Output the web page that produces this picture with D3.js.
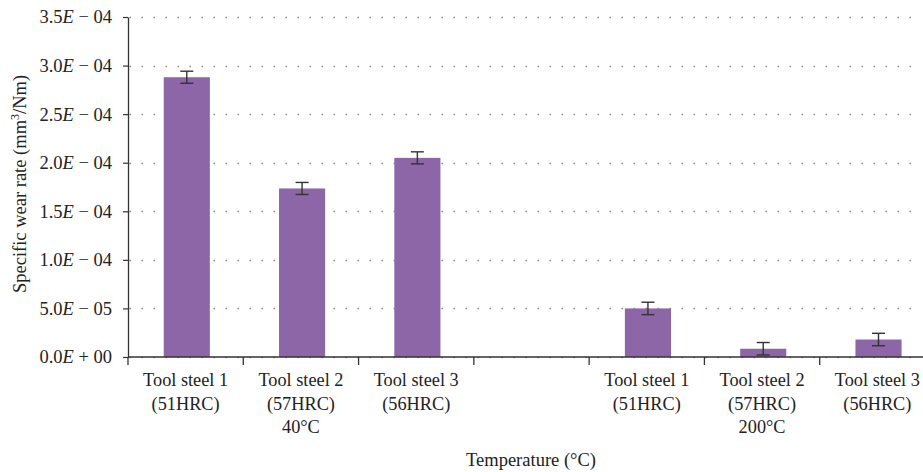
<!DOCTYPE html>
<html>
<head>
<meta charset="utf-8">
<script src="https://cdn.jsdelivr.net/npm/d3@7"></script>
<style>
  html, body { margin: 0; padding: 0; background: #fff; }
  svg { display: block; }
  text { font-family: "Liberation Serif", "DejaVu Serif", serif; fill: #222; }
</style>
</head>
<body>
<svg id="chart" width="923" height="472"></svg>
<script>
// Specific wear rate of three tool steels at two test temperatures
const slots = ["40-1", "40-2", "40-3", "gap", "200-1", "200-2", "200-3"];
const steelNames = ["Tool steel 1", "Tool steel 2", "Tool steel 3"];
const hardness = ["(51HRC)", "(57HRC)", "(56HRC)"];
const temperatures = ["40°C", "200°C"];
const barSlots = ["40-1", "40-2", "40-3", "200-1", "200-2", "200-3"];
const wearRate = [2.88e-4, 1.735e-4, 2.05e-4, 5.0e-5, 8.5e-6, 1.8e-5];
const wearErr = [6.2e-6, 6.2e-6, 6.2e-6, 6.4e-6, 6.4e-6, 6.4e-6];
const yTicks = [0, 5e-5, 1e-4, 1.5e-4, 2e-4, 2.5e-4, 3e-4, 3.5e-4];

const svg = d3.select("#chart");
const plotLeft = 128, plotTop = 17, plotBottom = 357;

const x = d3.scaleBand().domain(slots).range([plotLeft, 935]).padding(0);
const y = d3.scaleLinear().domain([0, 3.5e-4]).range([plotBottom, plotTop]);
const bw = x.bandwidth();

// dotted horizontal gridlines
svg.append("g").selectAll("line").data(yTicks).join("line")
  .attr("x1", plotLeft + 1.5).attr("x2", 918)
  .attr("y1", d => Math.round(y(d)) + 0.5).attr("y2", d => Math.round(y(d)) + 0.5)
  .attr("stroke", "#808080").attr("stroke-width", 1.3)
  .attr("stroke-dasharray", "1.4 10.6");

// bars
const rows = barSlots.map((s, i) => ({ s, v: wearRate[i], e: wearErr[i] }));
svg.append("g").selectAll("rect").data(rows).join("rect")
  .attr("x", d => x(d.s) + bw * 0.31)
  .attr("width", bw * 0.4)
  .attr("y", d => y(d.v))
  .attr("height", d => y(0) - y(d.v))
  .attr("fill", "#8C66A7");

// error bars
const eb = svg.append("g").attr("stroke", "#333").attr("stroke-width", 1.4).attr("fill", "none");
rows.forEach(d => {
  const cx = x(d.s) + bw * 0.51;
  eb.append("line").attr("x1", cx).attr("x2", cx).attr("y1", y(d.v + d.e)).attr("y2", y(d.v - d.e));
  [d.v + d.e, d.v - d.e].forEach(v =>
    eb.append("line").attr("x1", cx - 6.5).attr("x2", cx + 6.5).attr("y1", y(v)).attr("y2", y(v)));
});

// y axis
const yAxis = svg.append("g").attr("transform", `translate(${plotLeft},0)`)
  .call(d3.axisLeft(y).tickValues(yTicks).tickSize(5).tickSizeOuter(0).tickFormat(""));
yAxis.select(".domain").attr("stroke", "#333").attr("stroke-width", 1.3);
yAxis.selectAll(".tick line").attr("stroke", "#333").attr("stroke-width", 1.2);

const fmt = v => {
  if (v === 0) return { m: "0.0", sign: "+", e: "00" };
  const ex = Math.floor(Math.log10(v) + 1e-9);
  const m = v / Math.pow(10, ex);
  return { m: m.toFixed(1), sign: ex < 0 ? "\u2212" : "+", e: String(Math.abs(ex)).padStart(2, "0") };
};
yTicks.forEach(v => {
  const f = fmt(v);
  const t = svg.append("text").attr("x", 112).attr("y", y(v)).attr("dy", "0.35em")
    .attr("text-anchor", "end").attr("font-size", 18.5);
  t.append("tspan").text(f.m);
  t.append("tspan").attr("font-style", "italic").text("E");
  t.append("tspan").text(` ${f.sign} ${f.e}`);
});

// y axis title
const yt = svg.append("text").attr("transform", `translate(26,184) rotate(-90)`)
  .attr("text-anchor", "middle").attr("font-size", 18.5);
yt.append("tspan").text("Specific wear rate (mm");
yt.append("tspan").attr("font-size", 12).attr("dy", -7).text("3");
yt.append("tspan").attr("dy", 7).text("/Nm)");

// x axis
const xAxis = svg.append("g").attr("transform", `translate(0,${plotBottom})`);
xAxis.append("line").attr("x1", plotLeft).attr("x2", 923).attr("stroke", "#333").attr("stroke-width", 1.4);
xAxis.selectAll(".tk").data(slots).join("line").attr("class", "tk")
  .attr("x1", d => x(d)).attr("x2", d => x(d)).attr("y1", 0).attr("y2", 8)
  .attr("stroke", "#333").attr("stroke-width", 1.3);

// category labels
barSlots.forEach((s, i) => {
  const cx = x(s) + bw / 2;
  const k = i % 3;
  svg.append("text").attr("x", cx).attr("y", 386).attr("text-anchor", "middle")
    .attr("font-size", 18.3).text(steelNames[k]);
  svg.append("text").attr("x", cx).attr("y", 409.5).attr("text-anchor", "middle")
    .attr("font-size", 18.3).text(hardness[k]);
});
[["40-2", temperatures[0]], ["200-2", temperatures[1]]].forEach(([s, t]) => {
  svg.append("text").attr("x", x(s) + bw / 2).attr("y", 433).attr("text-anchor", "middle")
    .attr("font-size", 18.3).text(t);
});

// x axis title
svg.append("text").attr("x", 531).attr("y", 466).attr("text-anchor", "middle")
  .attr("font-size", 18.5).text("Temperature (°C)");
</script>
</body>
</html>
